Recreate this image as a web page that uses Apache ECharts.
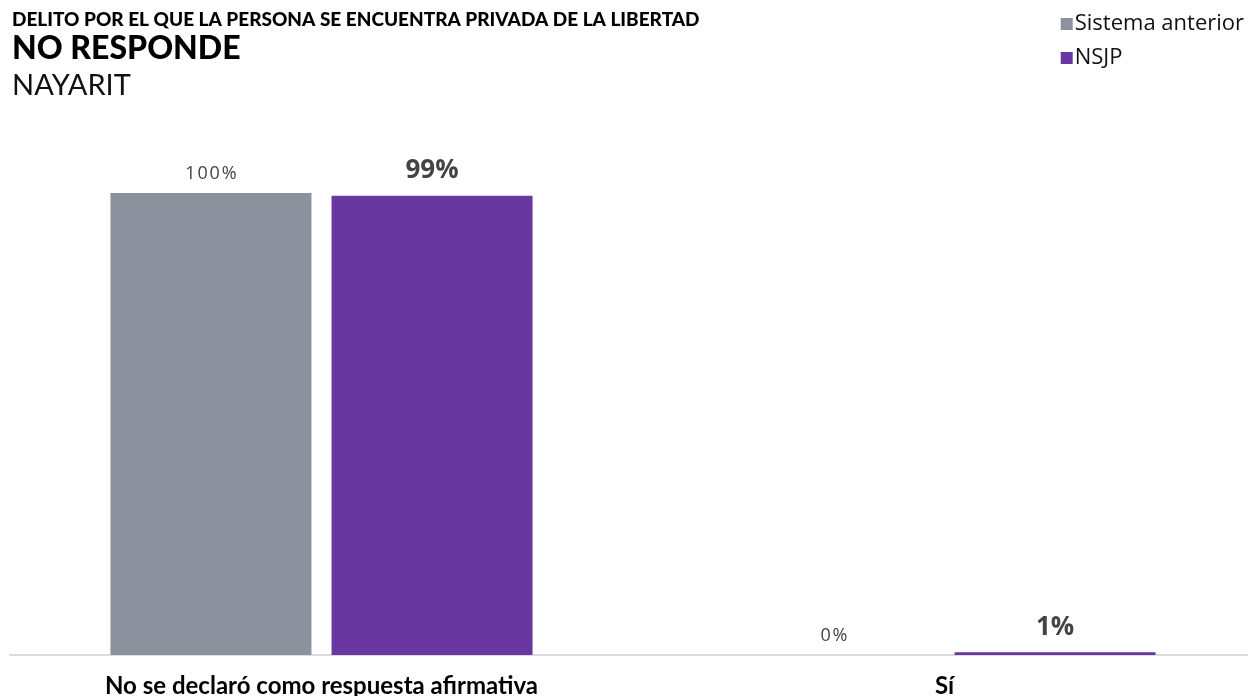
<!DOCTYPE html>
<html><head><meta charset="utf-8">
<script src="https://cdn.jsdelivr.net/npm/echarts@6/dist/echarts.min.js"></script>
<style>html,body{margin:0;padding:0;background:#fff}#c{width:1248px;height:696px}</style>
</head><body><div id="c"></div>
<script>
const categories = ['No se declaró como respuesta afirmativa', 'Sí'];
const seriesNames = ['Sistema anterior', 'NSJP'];
const sistemaAnterior = [100, 0];
const nsjp = [99.4, 0.6];
const labelsAnterior = ['100%', '0%'];
const labelsNsjp = ['99%', '1%'];

const chart = echarts.init(document.getElementById('c'));
chart.setOption({
  animation: false,
  textStyle: { fontFamily: 'Lato' },
  title: [
    { text: 'DELITO POR EL QUE LA PERSONA SE ENCUENTRA PRIVADA DE LA LIBERTAD', left: 12, top: 10, padding: 0,
      textStyle: { fontFamily: 'Lato', fontSize: 19, fontWeight: 900, color: '#000' } },
    { text: 'NO RESPONDE', left: 12, top: 33, padding: 0,
      textStyle: { fontFamily: 'Lato', fontSize: 32, fontWeight: 900, color: '#000' } },
    { text: 'NAYARIT', left: 12, top: 71, padding: 0,
      textStyle: { fontFamily: 'Lato', fontSize: 29, fontWeight: 'normal', color: '#111' } }
  ],
  legend: {
    orient: 'vertical', right: 4, top: 13, itemWidth: 12, itemHeight: 12, itemGap: 12,
    icon: 'rect', padding: 0,
    textStyle: { fontFamily: 'Open Sans', fontSize: 22, color: '#111', padding: [0, 0, 0, -3] },
    data: seriesNames
  },
  grid: { left: 10, width: 1246, top: 193, bottom: 41, containLabel: false, outerBoundsMode: 'none' },
  xAxis: {
    type: 'category', data: categories,
    axisLine: { lineStyle: { color: '#dcdcdc', width: 2 } },
    axisTick: { show: false },
    axisLabel: { fontFamily: 'Lato', fontSize: 24, fontWeight: 'bold', color: '#000', margin: 19 }
  },
  yAxis: { type: 'value', min: 0, max: 100, show: false, splitLine: { show: false } },
  series: [
    { name: seriesNames[0], type: 'bar', data: sistemaAnterior, barWidth: 201, barGap: '10%',
      itemStyle: { color: '#8d919d' },
      label: { show: true, position: 'top', distance: 10, fontFamily: 'Open Sans', fontSize: 18,
        color: '#444', formatter: p => labelsAnterior[p.dataIndex].split('').join('\u200A') } },
    { name: seriesNames[1], type: 'bar', data: nsjp, barWidth: 201,
      itemStyle: { color: '#6838a0' },
      label: { show: true, position: 'top', distance: 12, fontFamily: 'Open Sans', fontSize: 26,
        fontWeight: 'bold', color: '#444', formatter: p => labelsNsjp[p.dataIndex] } }
  ]
});
</script></body></html>
